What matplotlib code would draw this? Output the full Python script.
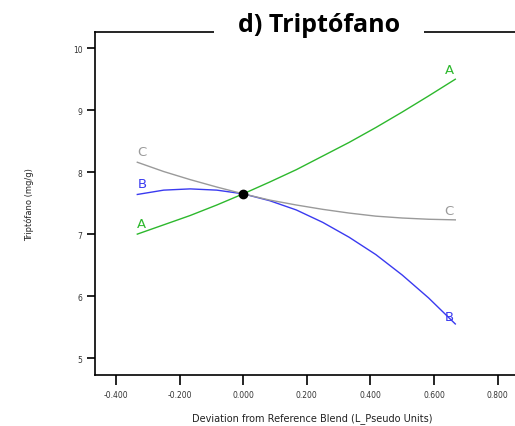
import numpy as np
import matplotlib.pyplot as plt

# deviation from reference blend (pseudo units)
dev = [-0.333, -0.25, -0.167, -0.083, 0.0, 0.083, 0.167, 0.25, 0.333, 0.417, 0.5, 0.583, 0.667]
trip_A = [7.00, 7.15, 7.30, 7.47, 7.65, 7.84, 8.04, 8.26, 8.48, 8.72, 8.97, 9.23, 9.50]
trip_B = [7.64, 7.71, 7.73, 7.71, 7.65, 7.54, 7.39, 7.19, 6.95, 6.67, 6.34, 5.97, 5.55]
trip_C = [8.16, 8.01, 7.88, 7.76, 7.65, 7.55, 7.47, 7.40, 7.34, 7.29, 7.26, 7.24, 7.23]
ref_x, ref_y = 0.0, 7.65

xticks = [-0.4, -0.2, 0.0, 0.2, 0.4, 0.6, 0.8]
yticks = [5, 6, 7, 8, 9, 10]

fig = plt.figure(figsize=(5.15, 4.27), dpi=100)
ax = fig.add_axes([0.1845, 0.1194, 0.845, 0.803])

series = [("A", trip_A, "#2db82d"), ("B", trip_B, "#3a3af0"), ("C", trip_C, "#9a9a9a")]
for name, vals, col in series:
    ax.plot(dev, vals, color=col, lw=1.0)
    ax.text(dev[0], vals[0] + 0.07, name, color=col, fontsize=9.5, ha="left", va="bottom")
    ax.text(dev[-1] - 0.005, vals[-1] + 0.05 if name != "B" else vals[-1] + 0.02,
            name, color=col, fontsize=9.5, ha="right", va="bottom")

ax.plot(ref_x, ref_y, "o", color="black", ms=6)

ax.set_xlim(-0.466, 0.9025)
ax.set_ylim(4.726, 10.26)
ax.set_xticks(xticks)
ax.set_xticklabels(["%.3f" % v for v in xticks])
ax.set_yticks(yticks)
ax.tick_params(axis="x", length=7, width=1.2, labelsize=5.5, pad=4, labelcolor="#333333")
ax.tick_params(axis="y", length=6, width=1.2, labelsize=5.5, pad=3, labelcolor="#333333")
for s in ["left", "bottom", "top"]:
    ax.spines[s].set_linewidth(1.2)
ax.spines["right"].set_visible(False)

ax.set_xlabel("Deviation from Reference Blend (L_Pseudo Units)", fontsize=7, labelpad=9, color="#222222")
ax.set_ylabel("Triptófano (mg/g)", fontsize=6, labelpad=28, color="#222222")

fig.text(319 / 515, 1 - 25 / 427, "d) Triptófano", fontsize=18, fontweight="bold",
         family="Open Sans", ha="center", va="center",
         bbox=dict(facecolor="white", edgecolor="none", pad=17))

fig.savefig("out.png", dpi=100)
